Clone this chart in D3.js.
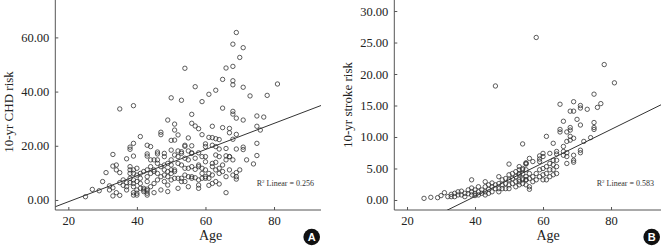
<!DOCTYPE html>
<html>
<head>
<meta charset="utf-8">
<script src="https://cdn.jsdelivr.net/npm/d3@7"></script>
<style>
  body { margin: 0; background: #fff; }
  svg { display: block; }
  text { font-family: "Liberation Serif", "DejaVu Serif", serif; }
</style>
</head>
<body>
<div id="chart-area"></div>
<script>
// Panel A: age vs 10-yr CHD risk
var chdPoints = [
  [69,61.8],[68,57.5],[71,56.2],[70,52.6],[68,49.3],[66,48.7],[54,48.6],[65,44.5],[68,44.0],[68,42.5],
  [63,40.5],[71,41.6],[57,41.8],[61,39.0],[73,38.4],[81,42.8],[78,38.6],[50,37.7],[53,36.8],[59,36.3],
  [39,34.8],[35,33.6],[65,33.9],[68,32.7],[68,31.7],[69,30.2],[75,31.0],[77,30.6],[71,29.5],[56,31.6],
  [49,29.5],[51,28.0],[56,28.3],[57,27.3],[62,27.2],[65,26.7],[58,26.3],[75,27.2],[76,25.8],[67,26.4],
  [67,24.8],[69,24.2],[51,25.8],[59,24.1],[47,25.0],[47,24.1],[41,23.4],[52,24.0],[55,22.9],[61,23.1],
  [62,23.0],[63,22.6],[64,22.3],[50,22.0],[51,22.1],[68,22.4],[75,20.9],[39,20.9],[38,19.5],[38,18.7],
  [43,20.2],[44,19.7],[54,20.2],[54,19.8],[56,20.0],[60,20.7],[60,19.7],[62,20.2],[63,19.7],[64,18.8],
  [71,19.5],[71,18.6],[69,18.8],[66,19.0],[50,18.4],[52,18.1],[53,17.8],[55,18.1],[56,17.4],[58,17.4],
  [33,16.8],[39,16.2],[43,17.0],[43,16.2],[46,17.7],[46,17.0],[48,17.2],[75,16.4],[66,16.3],[67,16.0],
  [37,15.2],[60,16.0],
  [31,10.1],[30,6.8],[27,3.9],[29,3.4],[25,1.2],[32,5.2],[32,3.7],[33,4.5],[33,1.5],[33,12.5],
  [34,2.7],[34,12.9],[34,11.1],[35,1.7],[35,10.1],[35,6.4],[36,7.4],[36,5.4],[37,6.4],[37,4.9],
  [37,3.7],[38,12.3],[38,11.1],[38,9.8],[38,8.0],[38,6.4],[39,11.1],[39,9.8],[39,7.4],[39,6.1],
  [39,4.9],[39,2.7],[39,1.8],[40,11.7],[40,9.2],[40,6.8],[40,3.7],[40,2.5],[40,1.8],[41,9.8],
  [41,8.0],[41,6.1],[41,4.3],[42,10.5],[42,4.3],[42,3.7],[42,3.1],[43,11.1],[43,8.6],[43,6.8],
  [43,2.5],[43,1.8],[43,4.0],[43,3.4],[44,14.8],[44,12.3],[44,9.8],[44,4.9],[45,14.8],[45,11.1],
  [45,10.5],[45,6.1],[45,2.7],[46,14.8],[46,13.5],[46,9.8],[46,7.4],[47,12.3],[47,8.6],[47,3.7],
  [48,16.0],[48,12.9],[48,11.1],[48,9.2],[48,6.8],[49,13.5],[49,10.5],[49,8.6],[49,5.5],[49,3.1],
  [50,14.8],[50,12.9],[50,11.1],[50,9.8],[50,7.4],[51,16.6],[51,11.1],[51,10.5],[51,8.0],[52,16.0],
  [52,13.5],[52,8.0],[52,4.3],[53,17.2],[53,12.9],[53,8.0],[53,6.8],[54,15.4],[54,11.7],[54,9.2],
  [54,6.8],[55,14.8],[55,11.7],[55,8.6],[55,4.9],[56,17.2],[56,12.3],[56,8.6],[56,8.0],[57,15.4],
  [57,11.3],[57,8.2],[58,12.9],[58,12.3],[58,7.4],[58,5.5],[58,4.3],[59,16.0],[59,11.7],[59,9.8],
  [59,8.0],[60,14.1],[60,11.1],[60,8.6],[60,8.0],[61,9.8],[61,8.0],[61,5.4],[62,13.5],[62,12.3],
  [62,9.2],[62,6.1],[63,16.6],[63,13.9],[63,11.1],[63,6.8],[64,16.0],[64,11.7],[64,9.8],[64,5.9],
  [65,12.9],[65,10.5],[66,14.8],[66,8.6],[66,2.7],[67,16.0],[67,11.1],[68,14.8],[68,9.2],[69,10.1],
  [69,8.6],[69,7.7],[70,11.1],[72,14.8],[74,13.3]
];

// Panel B: age vs 10-yr stroke risk
var strokePoints = [
  [58,25.8],[78,21.5],[81,18.6],[46,18.1],[75,16.8],[65,15.2],[69,15.6],[71,15.0],[71,14.6],[73,14.4],
  [76,14.7],[77,15.3],[68,14.1],[69,14.1],[66,12.5],[65,11.2],[65,10.8],[70,12.8],[71,11.9],[75,12.3],
  [75,11.5],[75,11.2],[61,10.1],[68,11.5],[68,11.1],[68,10.1],[68,9.5],[67,10.8],[67,9.3],[69,9.8],
  [74,9.9],[72,9.3],[54,8.9],[63,9.0],[64,7.7],[64,7.3],[66,8.5],[66,7.7],[66,7.1],[67,7.5],
  [67,6.9],[67,5.8],[69,7.1],[69,6.3],[69,6.0],[71,7.9],[71,7.5],[62,7.4],[60,7.4],[60,6.9],
  [59,7.0],[59,6.5],[59,6.1],[56,6.6],[57,6.1],[55,5.9],[55,5.7],[50,5.7],[53,5.3],
  [53,4.2],[53,2.9],[54,4.8],[54,3.4],[55,3.2],[55,2.4],[56,4.2],[56,3.4],[56,2.1],[56,1.7],
  [57,3.7],[57,2.9],[58,4.2],[58,3.2],[59,4.8],[59,3.7],[60,5.0],[60,4.0],[60,3.2],[61,5.3],
  [61,4.2],[61,3.2],[62,5.8],[62,4.8],[62,3.7],[63,6.3],[63,5.6],[63,4.8],[63,4.0],[64,6.3],
  [64,5.3],[64,4.2],
  [25,0.26],[27,0.42],[29,0.37],[30,0.69],[31,1.16],[32,0.53],[33,0.9],[33,0.53],[34,1.06],[34,0.53],
  [35,1.3],[35,0.8],[36,1.4],[36,0.8],[37,1.06],[37,0.53],[38,1.6],[38,1.0],[39,3.2],[39,1.9],
  [39,1.3],[39,0.8],[40,1.6],[40,1.06],[40,0.7],[41,2.1],[41,1.3],[41,0.8],[42,1.6],[42,1.06],
  [43,2.9],[43,2.1],[43,1.3],[43,0.8],[44,2.4],[44,1.7],[44,1.06],[45,2.7],[45,2.1],[45,1.3],
  [46,2.4],[46,1.8],[47,3.7],[47,2.6],[47,1.8],[47,1.3],[48,3.2],[48,2.4],[48,1.8],[49,3.4],
  [49,2.6],[49,1.8],[50,4.0],[50,3.2],[50,2.4],[50,1.8],[51,4.2],[51,3.4],[51,2.6],[52,4.5],
  [52,3.7],[52,2.9],[52,2.1],[53,4.8],[53,4.0],[53,3.2],[53,2.4],[54,5.0],[54,4.2],[54,3.2],
  [54,2.6],[55,5.8],[55,4.8],[55,3.7],[55,3.2]
];

// fitted lines [intercept, slope] and R² labels
var chdFit = [-10.3, 0.482];
var strokeFit = [-10.08, 0.266];
var chdR2 = "0.256";
var strokeR2 = "0.583";

var ageTicks = [20, 40, 60, 80];
var chdTicks = [0, 20, 40, 60];
var strokeTicks = [0, 5, 10, 15, 20, 25, 30];

var svg = d3.select("#chart-area")
    .append("svg")
    .attr("width", 662)
    .attr("height", 247);

function drawPanel(opt) {
    var g = svg.append("g")
        .attr("transform", "translate(" + opt.left + ",0)");

    var width = opt.width, height = 210;

    var x = d3.scaleLinear().domain(opt.xDomain).range([0, width]);
    var y = d3.scaleLinear().domain(opt.yDomain).range([height, 0]);

    g.append("clipPath")
        .attr("id", "clip-" + opt.id)
        .append("rect")
        .attr("width", width)
        .attr("height", height);

    // y axis (ticks point inward)
    var yAxis = g.append("g")
        .call(d3.axisRight(y).tickValues(opt.yTicks).tickSize(3).tickFormat(d3.format(".2f")));
    yAxis.select(".domain").remove();
    yAxis.selectAll("line").attr("stroke", "#555");
    yAxis.selectAll("text")
        .attr("x", -6)
        .attr("text-anchor", "end")
        .attr("font-size", "12.5px")
        .attr("fill", "#222");
    g.append("line")
        .attr("x1", 0).attr("x2", 0)
        .attr("y1", 0).attr("y2", height)
        .attr("stroke", "#555");

    // x axis (ticks point up)
    var xAxis = g.append("g")
        .attr("transform", "translate(0," + height + ")")
        .call(d3.axisTop(x).tickValues(ageTicks).tickSize(3));
    xAxis.select(".domain").remove();
    xAxis.selectAll("line").attr("stroke", "#555");
    xAxis.selectAll("text")
        .attr("y", 15)
        .attr("font-size", "12.5px")
        .attr("fill", "#222");
    g.append("line")
        .attr("x1", 0).attr("x2", width)
        .attr("y1", height).attr("y2", height)
        .attr("stroke", "#555");

    // points
    g.selectAll("circle.pt")
        .data(opt.data)
        .enter()
        .append("circle")
        .attr("class", "pt")
        .attr("cx", function (d) { return x(d[0]); })
        .attr("cy", function (d) { return y(d[1]); })
        .attr("r", 2.2)
        .attr("fill", "none")
        .attr("stroke", "#333")
        .attr("stroke-width", 0.8);

    // linear fit
    var x0 = opt.xDomain[0], x1 = opt.xDomain[1];
    g.append("line")
        .attr("clip-path", "url(#clip-" + opt.id + ")")
        .attr("x1", x(x0)).attr("y1", y(opt.fit[0] + opt.fit[1] * x0))
        .attr("x2", x(x1)).attr("y2", y(opt.fit[0] + opt.fit[1] * x1))
        .attr("stroke", "#333")
        .attr("stroke-width", 1);

    // R² label
    var r2 = g.append("text")
        .attr("x", width - 7)
        .attr("y", 186)
        .attr("text-anchor", "end")
        .attr("font-size", "8px")
        .attr("fill", "#333");
    r2.append("tspan").text("R");
    r2.append("tspan").attr("font-size", "5px").attr("dy", -3).text("2");
    r2.append("tspan").attr("dy", 3).text(" Linear = " + opt.r2);

    // axis labels
    g.append("text")
        .attr("x", x(61.5))
        .attr("y", 240)
        .attr("text-anchor", "middle")
        .attr("font-size", "14px")
        .attr("fill", "#222")
        .text("Age");

    g.append("text")
        .attr("transform", "translate(" + opt.yLabelX + "," + opt.yLabelY + ") rotate(-90)")
        .attr("text-anchor", "middle")
        .attr("font-size", "13px")
        .attr("fill", "#222")
        .text(opt.yLabel);

    // panel badge
    g.append("circle")
        .attr("cx", opt.badgeX)
        .attr("cy", 237)
        .attr("r", 8.3)
        .attr("fill", "#111");
    g.append("text")
        .attr("x", opt.badgeX)
        .attr("y", 241)
        .attr("text-anchor", "middle")
        .style("font-family", "'Liberation Sans', Arial, sans-serif")
        .attr("font-weight", "bold")
        .attr("font-size", "11px")
        .attr("fill", "#fff")
        .text(opt.id);
}

drawPanel({
    id: "A", left: 55.3, width: 265.7,
    xDomain: [16.2, 93.7], yDomain: [-3.7, 73.8],
    yTicks: chdTicks, data: chdPoints, fit: chdFit, r2: chdR2,
    yLabel: "10-yr CHD risk", yLabelX: -42, yLabelY: 112, badgeX: 256.4
});

drawPanel({
    id: "B", left: 394.3, width: 266.7,
    xDomain: [16.26, 94.7], yDomain: [-1.59, 31.75],
    yTicks: strokeTicks, data: strokePoints, fit: strokeFit, r2: strokeR2,
    yLabel: "10-yr stroke risk", yLabelX: -42.5, yLabelY: 105, badgeX: 257.4
});
</script>
</body>
</html>
